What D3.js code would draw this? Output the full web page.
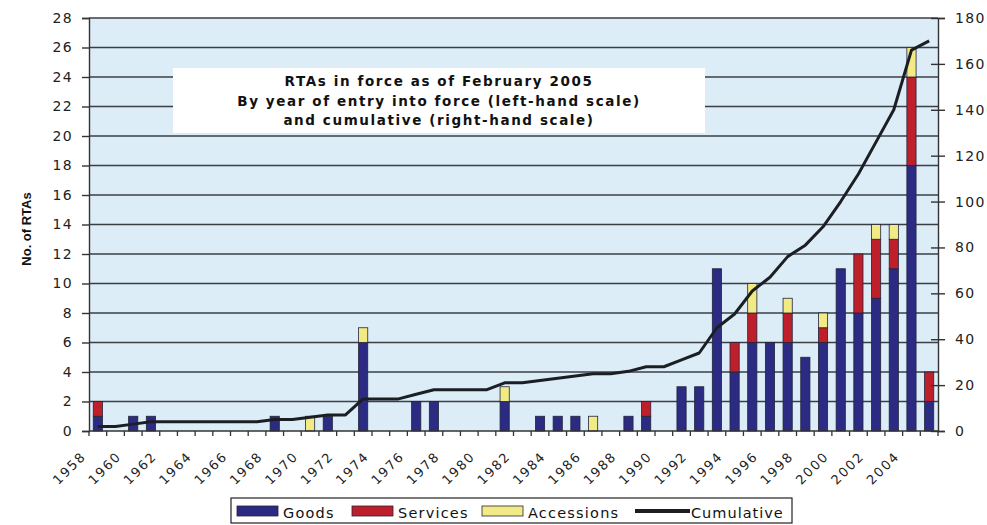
<!DOCTYPE html>
<html>
<head>
<meta charset="utf-8">
<script src="https://cdn.jsdelivr.net/npm/d3@7"></script>
<style>
  html, body { margin: 0; padding: 0; background: #fff; }
  svg { display: block; font-family: "DejaVu Sans", Arial, sans-serif; }
</style>
</head>
<body>
<svg id="chart" width="987" height="525"></svg>
<script>
// ---- data ----
var years = [1958, 1959, 1960, 1961, 1962, 1963, 1964, 1965, 1966, 1967, 1968, 1969,
  1970, 1971, 1972, 1973, 1974, 1975, 1976, 1977, 1978, 1979, 1980, 1981,
  1982, 1983, 1984, 1985, 1986, 1987, 1988, 1989, 1990, 1991, 1992, 1993,
  1994, 1995, 1996, 1997, 1998, 1999, 2000, 2001, 2002, 2003, 2004, 2005];
var goods = [1, 0, 1, 1, 0, 0, 0, 0, 0, 0, 1, 0,
  0, 1, 0, 6, 0, 0, 2, 2, 0, 0, 0, 2,
  0, 1, 1, 1, 0, 0, 1, 1, 0, 3, 3, 11,
  4, 6, 6, 6, 5, 6, 11, 8, 9, 11, 18, 2];
var services = [1, 0, 0, 0, 0, 0, 0, 0, 0, 0, 0, 0,
  0, 0, 0, 0, 0, 0, 0, 0, 0, 0, 0, 0,
  0, 0, 0, 0, 0, 0, 0, 1, 0, 0, 0, 0,
  2, 2, 0, 2, 0, 1, 0, 4, 4, 2, 6, 2];
var accessions = [0, 0, 0, 0, 0, 0, 0, 0, 0, 0, 0, 0,
  1, 0, 0, 1, 0, 0, 0, 0, 0, 0, 0, 1,
  0, 0, 0, 0, 1, 0, 0, 0, 0, 0, 0, 0,
  0, 2, 0, 1, 0, 1, 0, 0, 1, 1, 2, 0];
var cumulative = [2, 2, 3, 4, 4, 4, 4, 4, 4, 4, 5, 5,
  6, 7, 7, 14, 14, 14, 16, 18, 18, 18, 18, 21,
  21, 22, 23, 24, 25, 25, 26, 28, 28, 31, 34, 45,
  51, 61, 67, 76, 81, 89, 100, 112, 126, 140, 166, 170];
var leftTicks = [0, 2, 4, 6, 8, 10, 12, 14, 16, 18, 20, 22, 24, 26, 28];
var rightTicks = [0, 20, 40, 60, 80, 100, 120, 140, 160, 180];
var yearLabels = [1958, 1960, 1962, 1964, 1966, 1968, 1970, 1972, 1974, 1976, 1978, 1980,
  1982, 1984, 1986, 1988, 1990, 1992, 1994, 1996, 1998, 2000, 2002, 2004];
var titleLines = ["RTAs in force as of February 2005",
  "By year of entry into force (left-hand scale)",
  "and cumulative (right-hand scale)"];

var col = { goods: "#2c2b84", services: "#bf1f2b", accessions: "#f2ea84", line: "#1b1f24", grid: "#3a3f44" };

// ---- geometry ----
var L = 89, R = 938, T = 18, B = 431;
var svg = d3.select("#chart");

var x = d3.scaleBand().domain(years).range([L, R]).paddingInner(0.48).paddingOuter(0.24);
var yL = d3.scaleLinear().domain([0, 28]).range([B, T]);
var yR = d3.scaleLinear().domain([0, 180]).range([B, T]);

// plot background
svg.append("rect").attr("x", L).attr("y", T).attr("width", R - L).attr("height", B - T).attr("fill", "#dcedf8");

// gridlines
svg.append("g").selectAll("line").data(leftTicks.slice(1)).enter().append("line")
  .attr("x1", L).attr("x2", R).attr("y1", function (d) { return yL(d); }).attr("y2", function (d) { return yL(d); })
  .attr("stroke", col.grid).attr("stroke-width", 1.4);

// title box (covers the grid)
svg.append("rect").attr("x", 173).attr("y", 68).attr("width", 532).attr("height", 65).attr("fill", "#fff");
svg.append("g").selectAll("text").data(titleLines).enter().append("text")
  .attr("x", 439).attr("y", function (d, i) { return 86 + i * 19.5; })
  .attr("text-anchor", "middle").attr("font-weight", "bold").attr("font-size", 13.5)
  .attr("letter-spacing", 1.6).attr("fill", "#111").text(function (d) { return d; });

// stacked bars
var stackRows = years.map(function (yr, i) { return { year: yr, goods: goods[i], services: services[i], accessions: accessions[i] }; });
var series = d3.stack().keys(["goods", "services", "accessions"])(stackRows);
svg.append("g").selectAll("g").data(series).enter().append("g")
  .attr("fill", function (s) { return col[s.key]; })
  .selectAll("rect").data(function (s) { return s.filter(function (d) { return d[1] > d[0]; }); }).enter().append("rect")
  .attr("x", function (d) { return x(d.data.year); })
  .attr("width", x.bandwidth())
  .attr("y", function (d) { return yL(d[1]); })
  .attr("height", function (d) { return yL(d[0]) - yL(d[1]); })
  .attr("stroke", "#23243a").attr("stroke-width", 0.8);

// cumulative line
var line = d3.line()
  .x(function (d, i) { return x(years[i]) + x.bandwidth() / 2; })
  .y(function (d) { return yR(d); });
svg.append("path").datum(cumulative).attr("d", line).attr("fill", "none")
  .attr("stroke", col.line).attr("stroke-width", 3).attr("stroke-linejoin", "round");

// left axis
var axL = svg.append("g").attr("transform", "translate(" + L + ",0)")
  .call(d3.axisLeft(yL).tickValues(leftTicks).tickSize(7).tickPadding(9));
axL.select(".domain").attr("stroke", "#333").attr("stroke-width", 1.4);
axL.selectAll(".tick line").attr("stroke", "#333").attr("stroke-width", 1.4);
axL.selectAll(".tick text").attr("font-size", 14).attr("letter-spacing", 1.4)
  .attr("font-family", "DejaVu Sans, Arial, sans-serif").attr("fill", "#222");

// right axis, ticks crossing the line
var axR = svg.append("g").attr("transform", "translate(" + R + ",0)")
  .call(d3.axisRight(yR).tickValues(rightTicks).tickSize(7).tickPadding(10));
axR.select(".domain").attr("stroke", "#333").attr("stroke-width", 1.4);
axR.selectAll(".tick line").attr("x1", -7).attr("stroke", "#333").attr("stroke-width", 1.4);
axR.selectAll(".tick text").attr("font-size", 14).attr("letter-spacing", 1.4)
  .attr("font-family", "DejaVu Sans, Arial, sans-serif").attr("fill", "#222");

// bottom axis: ticks on category boundaries
var bounds = years.map(function (yr) { return x(yr) - x.step() * x.paddingInner() / 2; }).concat([R]);
svg.append("line").attr("x1", L).attr("x2", R).attr("y1", B).attr("y2", B).attr("stroke", "#333").attr("stroke-width", 1.4);
svg.append("g").selectAll("line").data(bounds).enter().append("line")
  .attr("x1", function (d) { return d; }).attr("x2", function (d) { return d; })
  .attr("y1", B).attr("y2", B + 5).attr("stroke", "#333").attr("stroke-width", 1.3);
svg.append("g").selectAll("text").data(yearLabels).enter().append("text")
  .attr("transform", function (d) { return "translate(" + (x(d) + x.bandwidth() / 2 - 11) + "," + 457 + ") rotate(-45)"; })
  .attr("text-anchor", "end").attr("font-size", 13).attr("letter-spacing", 1.8).attr("fill", "#222")
  .text(function (d) { return d; });

// y-axis title
svg.append("text").attr("transform", "translate(31,229) rotate(-90)")
  .attr("text-anchor", "middle").attr("font-family", "Liberation Sans, Arial, sans-serif")
  .attr("font-weight", "bold").attr("font-size", 13).attr("fill", "#111").text("No. of RTAs");

// legend
var lg = svg.append("g");
lg.append("rect").attr("x", 231).attr("y", 498).attr("width", 561).attr("height", 25)
  .attr("fill", "#fff").attr("stroke", "#222").attr("stroke-width", 1.2);
var legendItems = [
  { key: "goods", label: "Goods", x: 237 },
  { key: "services", label: "Services", x: 352 },
  { key: "accessions", label: "Accessions", x: 482 }
];
legendItems.forEach(function (it) {
  lg.append("rect").attr("x", it.x).attr("y", 506).attr("width", 41).attr("height", 10)
    .attr("fill", col[it.key]).attr("stroke", "#23243a").attr("stroke-width", 0.8);
  lg.append("text").attr("x", it.x + 46).attr("y", 518).attr("font-size", 14.5).attr("letter-spacing", 1.2)
    .attr("fill", "#111").text(it.label);
});
lg.append("line").attr("x1", 635).attr("x2", 690).attr("y1", 511).attr("y2", 511)
  .attr("stroke", col.line).attr("stroke-width", 4);
lg.append("text").attr("x", 691).attr("y", 518).attr("font-size", 14.5).attr("letter-spacing", 1.0)
  .attr("fill", "#111").text("Cumulative");
</script>
</body>
</html>
